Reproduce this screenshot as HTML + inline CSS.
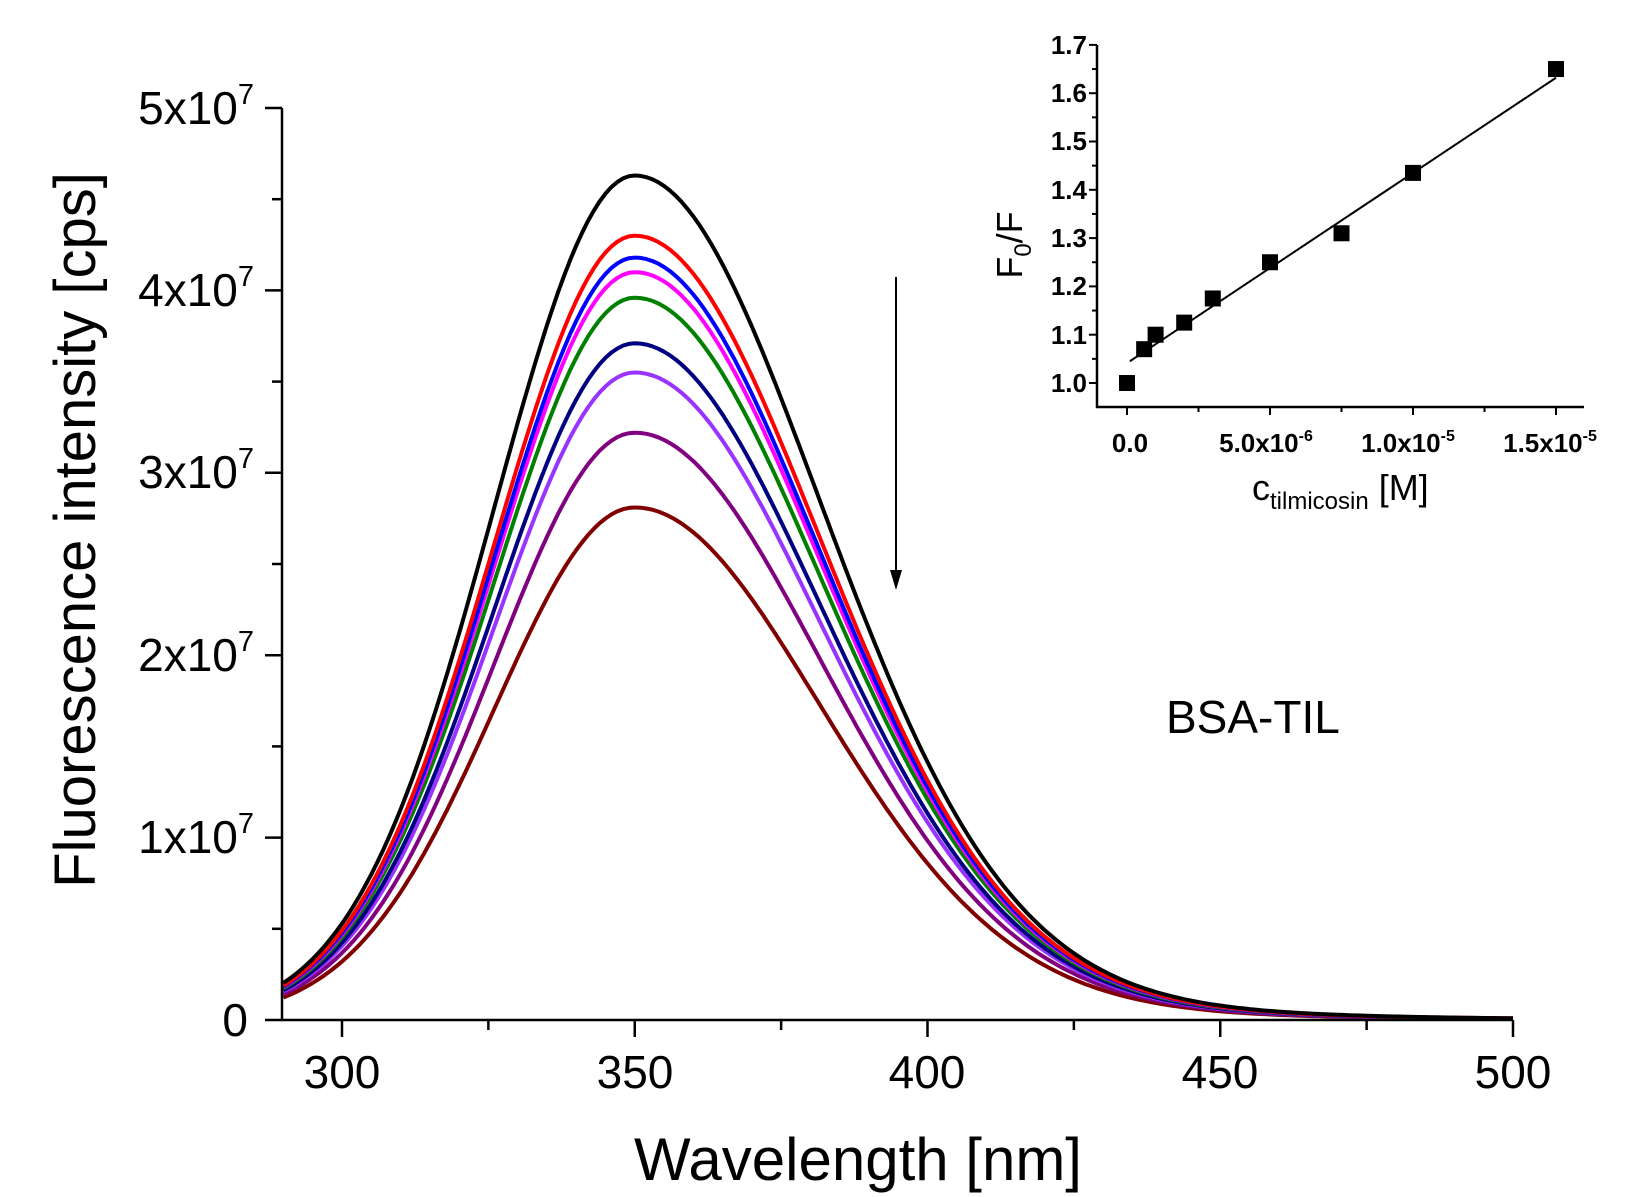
<!DOCTYPE html>
<html><head><meta charset="utf-8"><style>
html,body{margin:0;padding:0;background:#fff;}
svg{display:block;}
text{font-family:"Liberation Sans",Arial,sans-serif;}
</style></head><body>
<svg id="s" width="1632" height="1197" viewBox="0 0 1632 1197" xmlns="http://www.w3.org/2000/svg">
<rect width="1632" height="1197" fill="#fff"/>
<g id="curves" fill="none" stroke-width="4" stroke-linejoin="round"></g>
<g stroke="#000" stroke-width="2.5" fill="none">
<line x1="282" y1="108" x2="282" y2="1021"/>
<line x1="281" y1="1020" x2="1513" y2="1020"/>
</g>
<g id="mticks" stroke="#000" stroke-width="2.5"></g>
<g font-size="46" fill="#000" text-anchor="middle">
<text x="342" y="1088">300</text>
<text x="635" y="1088">350</text>
<text x="927" y="1088">400</text>
<text x="1220" y="1088">450</text>
<text x="1513" y="1088">500</text>
</g>
<g font-size="46" fill="#000" text-anchor="end">
<text x="248" y="1036">0</text>
<text x="254" y="853">1x10<tspan font-size="29" dy="-20">7</tspan></text>
<text x="254" y="671">2x10<tspan font-size="29" dy="-20">7</tspan></text>
<text x="254" y="488">3x10<tspan font-size="29" dy="-20">7</tspan></text>
<text x="254" y="306">4x10<tspan font-size="29" dy="-20">7</tspan></text>
<text x="254" y="124">5x10<tspan font-size="29" dy="-20">7</tspan></text>
</g>
<text x="858" y="1180" font-size="60" text-anchor="middle">Wavelength [nm]</text>
<text transform="translate(95,530) rotate(-90)" font-size="58" text-anchor="middle">Fluorescence intensity [cps]</text>
<text x="1166" y="733" font-size="46">BSA-TIL</text>
<line x1="896" y1="277" x2="896" y2="575" stroke="#000" stroke-width="2"/>
<polygon points="890,570 902,570 896,590" fill="#000"/>
<g stroke="#000" stroke-width="2.5" fill="none">
<line x1="1097" y1="45" x2="1097" y2="408"/>
<line x1="1096" y1="407" x2="1584" y2="407"/>
</g>
<g id="iticks" stroke="#000" stroke-width="2"></g>
<g font-size="26" font-weight="bold" text-anchor="end" fill="#000">
<text x="1087" y="392">1.0</text>
<text x="1087" y="344">1.1</text>
<text x="1087" y="295">1.2</text>
<text x="1087" y="247">1.3</text>
<text x="1087" y="199">1.4</text>
<text x="1087" y="150">1.5</text>
<text x="1087" y="102">1.6</text>
<text x="1087" y="54">1.7</text>
</g>
<g font-size="26" font-weight="bold" text-anchor="middle" fill="#000">
<text x="1130" y="452">0.0</text>
<text x="1266" y="452">5.0x10<tspan font-size="16" dy="-11">-6</tspan></text>
<text x="1408" y="452">1.0x10<tspan font-size="16" dy="-11">-5</tspan></text>
<text x="1550" y="452">1.5x10<tspan font-size="16" dy="-11">-5</tspan></text>
</g>
<text x="1252" y="500" font-size="36">c<tspan font-size="24" dy="9">tilmicosin</tspan><tspan dy="-9"> [M]</tspan></text>
<text transform="translate(1022,245) rotate(-90)" font-size="36" text-anchor="middle">F<tspan font-size="24" dy="9">0</tspan><tspan dy="-9">/F</tspan></text>
<line id="fit" stroke="#000" stroke-width="2"/>
<g id="pts" fill="#000"></g>
</svg>
<script>
var NS="http://www.w3.org/2000/svg";
function el(t,a,p){var e=document.createElementNS(NS,t);for(var k in a)e.setAttribute(k,a[k]);p.appendChild(e);return e;}
var X=function(l){return 342+(l-300)*5.855;};
var Y=function(v){return 1020-v*182.4;};
function g(l){var d=l-350;if(d<0)return Math.exp(-d*d/(2*24*24));
return 0.85*Math.exp(-d*d/(2*32*32))+0.15*2/(Math.exp(d/30)+Math.exp(-d/30));}
var cs=[["#000",4.63],["#ff0000",4.30],["#0000ff",4.18],["#ff00ff",4.10],["#008000",3.96],["#000080",3.71],["#9933ff",3.55],["#800080",3.22],["#800000",2.81]];
var cg=document.getElementById("curves");
cs.slice().reverse().forEach(function(c){var d="";for(var l=290;l<=500;l+=1){d+=(l==290?"M":"L")+X(l).toFixed(1)+","+Y(c[1]*g(l)).toFixed(1);}
el("path",{d:d,stroke:c[0]},cg);});
var mt=document.getElementById("mticks");
for(var l=300;l<=500;l+=25){var maj=(l%50==0);el("line",{x1:X(l),x2:X(l),y1:1020,y2:maj?1037:1030},mt);}
for(var v=0;v<=5;v+=0.5){var maj=(v%1==0);el("line",{x1:maj?265:272,x2:282,y1:Y(v),y2:Y(v)},mt);}
var IX=function(c){return 1127+c*28.6;};var IY=function(f){return 383-(f-1)*483;};
var it=document.getElementById("iticks");
for(var f=1.0;f<=1.701;f+=0.05){var maj=Math.abs(Math.round(f*10)-f*10)<0.01;el("line",{x1:maj?1089:1092,x2:1097,y1:IY(f),y2:IY(f)},it);}
for(var c=0;c<=15;c+=2.5){var maj=(c%5==0);el("line",{x1:IX(c),x2:IX(c),y1:407,y2:maj?415:412},it);}
var fit=document.getElementById("fit");
fit.setAttribute("x1",IX(0.1));fit.setAttribute("y1",IY(1.045));fit.setAttribute("x2",IX(15));fit.setAttribute("y2",IY(1.632));
var pts=[[0,1.0],[0.6,1.07],[1.0,1.10],[2.0,1.125],[3.0,1.175],[5.0,1.25],[7.5,1.31],[10,1.435],[15,1.65]];
var pg=document.getElementById("pts");
pts.forEach(function(p){el("rect",{x:IX(p[0])-8,y:IY(p[1])-8,width:16,height:16},pg);});
</script>
</body></html>
